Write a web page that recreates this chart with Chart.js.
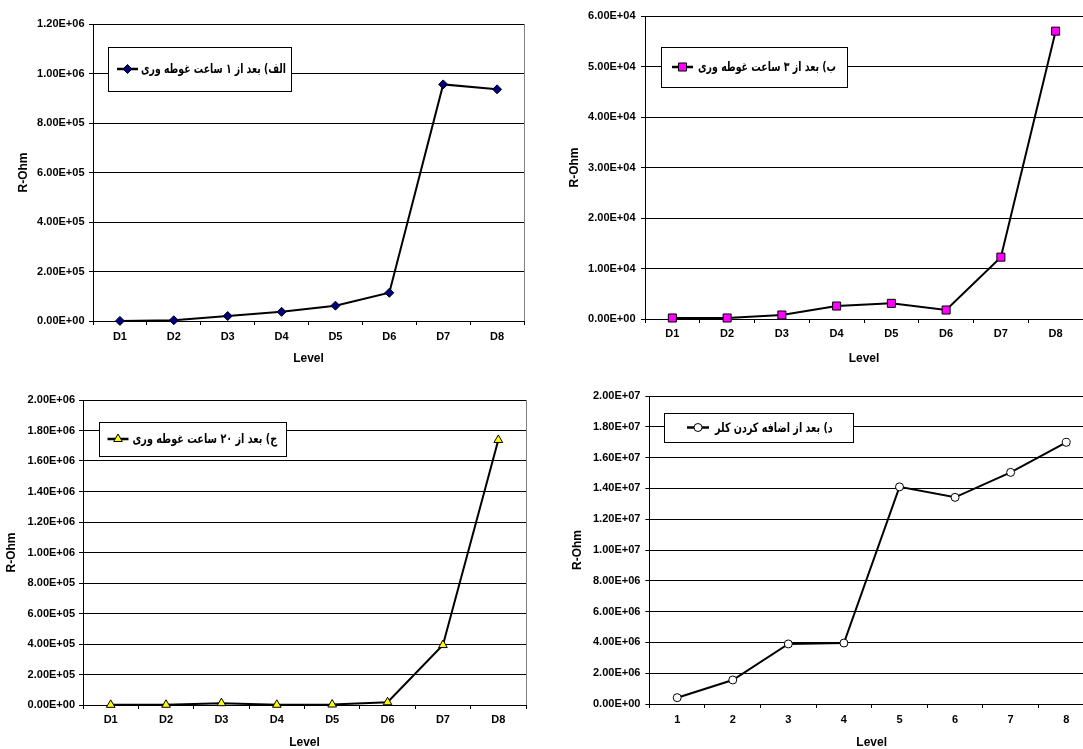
<!DOCTYPE html>
<html>
<head>
<meta charset="utf-8">
<script src="https://cdn.jsdelivr.net/npm/chart.js@4/dist/chart.umd.min.js"></script>
<style>
  html, body { margin: 0; padding: 0; background: #fff; overflow: hidden; width: 1083px; height: 749px; }
  canvas { position: absolute; }
</style>
</head>
<body>
<canvas id="c1" width="540" height="370" style="left:0px;top:0px"></canvas>
<canvas id="c2" width="560" height="370" style="left:540px;top:0px"></canvas>
<canvas id="c3" width="540" height="369" style="left:0px;top:380px"></canvas>
<canvas id="c4" width="560" height="369" style="left:540px;top:380px"></canvas>
<script>
// Measurement levels
const levelsD = ['D1', 'D2', 'D3', 'D4', 'D5', 'D6', 'D7', 'D8'];
const levelsN = ['1', '2', '3', '4', '5', '6', '7', '8'];

// Resistance (ohm) per level
const after1h  = [500, 3000, 20000, 37000, 62000, 114000, 956000, 936000];
const after3h  = [200, 200, 790, 2570, 3100, 1780, 12250, 57000];
const after20h = [1000, 1500, 12000, 1500, 3000, 18000, 393000, 1738000];
const afterCl  = [410000, 1560000, 3900000, 3960000, 14100000, 13420000, 15040000, 16990000];

// Y-axis tick values
const ticks1h  = [0, 200000, 400000, 600000, 800000, 1000000, 1200000];
const ticks3h  = [0, 10000, 20000, 30000, 40000, 50000, 60000];
const ticks20h = [0, 200000, 400000, 600000, 800000, 1000000, 1200000, 1400000, 1600000, 1800000, 2000000];
const ticksCl  = [0, 2000000, 4000000, 6000000, 8000000, 10000000, 12000000, 14000000, 16000000, 18000000, 20000000];

// Series names
const name1h  = 'الف) بعد از ۱ ساعت غوطه وری';
const name3h  = 'ب) بعد از ۳ ساعت غوطه وری';
const name20h = 'ج) بعد از ۲۰ ساعت غوطه وری';
const nameCl  = 'د) بعد از اضافه کردن کلر';

const xTitle = 'Level';
const yTitle = 'R-Ohm';

Chart.defaults.font.family = "'Liberation Sans', Arial, sans-serif";
Chart.defaults.font.weight = 'bold';
Chart.defaults.color = '#000';

// 1.20E+06 style labels
function sci(v) {
  const parts = Number(v).toExponential(2).split('e');
  const e = parseInt(parts[1], 10);
  return parts[0] + 'E' + (e < 0 ? '-' : '+') + String(Math.abs(e)).padStart(2, '0');
}

function markerPath(ctx, style, x, y, r) {
  ctx.beginPath();
  if (style === 'circle') {
    ctx.arc(x, y, r, 0, Math.PI * 2);
  } else if (style === 'rect') {
    const s = r * Math.SQRT1_2;
    ctx.rect(x - s, y - s, 2 * s, 2 * s);
  } else if (style === 'rectRot') {
    ctx.moveTo(x, y - r); ctx.lineTo(x + r, y); ctx.lineTo(x, y + r); ctx.lineTo(x - r, y);
    ctx.closePath();
  } else if (style === 'triangle') {
    const a = 2 * Math.PI / 3;
    ctx.moveTo(x, y - r);
    ctx.lineTo(x + Math.sin(a) * r, y - Math.cos(a) * r);
    ctx.lineTo(x - Math.sin(a) * r, y - Math.cos(a) * r);
    ctx.closePath();
  }
}

// Plot-area right edge in grey
const plotEdge = {
  id: 'plotEdge',
  beforeDatasetsDraw(chart) {
    const { ctx, chartArea: a } = chart;
    ctx.save();
    ctx.strokeStyle = '#808080';
    ctx.lineWidth = 1;
    const x = Math.round(a.right) + 0.5;
    ctx.beginPath();
    ctx.moveTo(x, Math.round(a.top));
    ctx.lineTo(x, Math.round(a.bottom));
    ctx.stroke();
    ctx.restore();
  }
};

// Framed legend floating inside the plot
const seriesBox = {
  id: 'seriesBox',
  afterDatasetsDraw(chart, args, o) {
    const ctx = chart.ctx;
    const ds = chart.data.datasets[0];
    ctx.save();
    ctx.fillStyle = '#fff';
    ctx.strokeStyle = '#000';
    ctx.lineWidth = 1;
    const bx = Math.round(o.x) + 0.5, by = Math.round(o.y) + 0.5;
    ctx.fillRect(bx, by, Math.round(o.w), Math.round(o.h));
    ctx.strokeRect(bx, by, Math.round(o.w), Math.round(o.h));
    const cy = o.y + o.h / 2;
    ctx.strokeStyle = '#000';
    ctx.lineWidth = 2.5;
    ctx.beginPath();
    ctx.moveTo(o.lineX, cy);
    ctx.lineTo(o.lineX + o.lineLen, cy);
    ctx.stroke();
    markerPath(ctx, ds.pointStyle, o.lineX + o.lineLen / 2, cy, ds.pointRadius);
    ctx.fillStyle = ds.pointBackgroundColor;
    ctx.fill();
    ctx.lineWidth = 1;
    ctx.stroke();
    // label squeezed horizontally into its slot
    ctx.font = 'bold ' + o.fontSize + 'px "DejaVu Sans"';
    const w = ctx.measureText(ds.label).width;
    const sx = Math.min(1, o.textW / w);
    ctx.translate(o.textX, cy + 1);
    ctx.scale(sx, 1);
    ctx.fillStyle = '#000';
    ctx.textAlign = 'left';
    ctx.textBaseline = 'middle';
    ctx.fillText(ds.label, 0, 0);
    ctx.restore();
  }
};

function makeChart(id, c) {
  const canvas = document.getElementById(id);
  const W = canvas.width, H = canvas.height;
  return new Chart(canvas, {
    type: 'line',
    data: {
      labels: c.labels,
      datasets: [{
        label: c.name,
        data: c.values,
        borderColor: '#000',
        borderWidth: 2,
        tension: 0,
        fill: false,
        clip: false,
        pointStyle: c.marker,
        pointRadius: c.radius,
        pointHoverRadius: c.radius,
        pointBackgroundColor: c.fill,
        pointBorderColor: '#000',
        pointBorderWidth: 1
      }]
    },
    options: {
      responsive: false,
      animation: false,
      devicePixelRatio: 1,
      events: [],
      layout: { padding: { left: 0, top: c.area.top, right: W - c.area.right, bottom: 0 } },
      plugins: {
        legend: { display: false },
        tooltip: { enabled: false },
        seriesBox: c.legend
      },
      scales: {
        x: {
          type: 'category',
          offset: true,
          grid: { offset: true, drawOnChartArea: false, drawTicks: true, tickLength: 4, color: '#000', tickColor: '#000' },
          border: { color: '#000', width: 1 },
          ticks: { font: { size: 11, weight: 'bold' }, color: '#000', padding: c.xTickPad, maxRotation: 0, autoSkip: false },
          title: { display: true, text: xTitle, font: { size: 12, weight: 'bold' }, color: '#000', padding: { top: 0, bottom: c.xTitlePad } },
          afterFit: s => { s.height = H - c.area.bottom; }
        },
        y: {
          min: c.ticks[0],
          max: c.ticks[c.ticks.length - 1],
          afterBuildTicks: s => { s.ticks = c.ticks.map(v => ({ value: v })); },
          grid: { color: '#000', lineWidth: 1, tickLength: 4, tickColor: '#000' },
          border: { color: '#000', width: 1 },
          ticks: { font: { size: 11, weight: 'bold' }, color: '#000', padding: c.yTickPad, callback: v => sci(v) },
          title: { display: true, text: yTitle, font: { size: 12, weight: 'bold' }, color: '#000', padding: { top: c.yTitlePad, bottom: 0 } },
          afterFit: s => { s.width = c.area.left; }
        }
      }
    },
    plugins: [plotEdge, seriesBox]
  });
}

makeChart('c1', {
  labels: levelsD, values: after1h, ticks: ticks1h, name: name1h,
  marker: 'rectRot', radius: 4.5, fill: '#000080',
  area: { left: 93, right: 524, top: 24, bottom: 321 },
  xTickPad: 5.5, xTitlePad: 3.8, yTickPad: 4.5, yTitlePad: 16.2,
  legend: { x: 107.5, y: 47, w: 183, h: 44, lineX: 117, lineLen: 21, textX: 141, textW: 145, fontSize: 13 }
});

makeChart('c2', {
  labels: levelsD, values: after3h, ticks: ticks3h, name: name3h,
  marker: 'rect', radius: 5.7, fill: '#FF00FF',
  area: { left: 105, right: 543, top: 16, bottom: 319 },
  xTickPad: 4.5, xTitlePad: 3.8, yTickPad: 5.5, yTitlePad: 27.4,
  legend: { x: 121, y: 47, w: 186, h: 40, lineX: 132, lineLen: 21, textX: 158, textW: 138, fontSize: 13 }
});

makeChart('c3', {
  labels: levelsD, values: after20h, ticks: ticks20h, name: name20h,
  marker: 'triangle', radius: 5, fill: '#FFFF00',
  area: { left: 83, right: 526, top: 20, bottom: 325 },
  xTickPad: 4.5, xTitlePad: -1.2, yTickPad: 4, yTitlePad: 4.8,
  legend: { x: 98.5, y: 42, w: 187, h: 34, lineX: 107.5, lineLen: 21, textX: 132.5, textW: 144.6, fontSize: 13 }
});

makeChart('c4', {
  labels: levelsN, values: afterCl, ticks: ticksCl, name: nameCl,
  marker: 'circle', radius: 4, fill: '#FFFFFF',
  area: { left: 109.4, right: 554, top: 16, bottom: 324 },
  xTickPad: 5.5, xTitlePad: -1.2, yTickPad: 5, yTitlePad: 30.2,
  legend: { x: 124.3, y: 33, w: 189, h: 29, lineX: 147, lineLen: 22, textX: 175, textW: 117.7, fontSize: 13 }
});
</script>
</body>
</html>
